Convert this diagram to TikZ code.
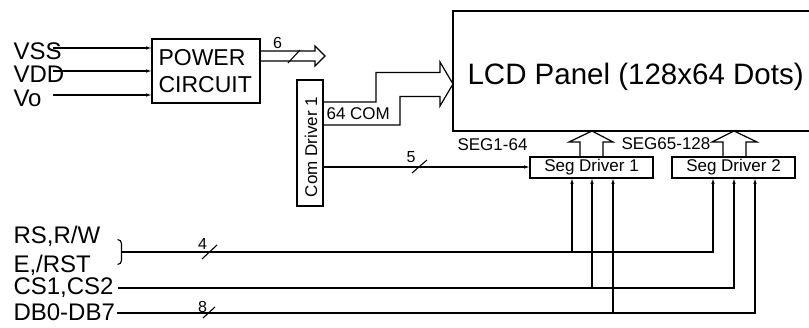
\documentclass[tikz,border=0pt]{standalone}
\usepackage{fontspec}
\setmainfont{Liberation Sans}
\usetikzlibrary{arrows.meta}
\begin{document}
\begin{tikzpicture}[x=1pt,y=-1pt, line width=1.1pt,
  box/.style={draw, line width=1.2pt, inner sep=0pt, outer sep=0pt},
  big/.style={font=\fontsize{24}{24}\selectfont, inner sep=0pt, anchor=base west},
  mid/.style={font=\fontsize{23}{23}\selectfont, inner sep=0pt, anchor=base west},
  small/.style={font=\fontsize{17}{17}\selectfont, inner sep=0pt},
  digit/.style={font=\fontsize{16}{16}\selectfont, inner sep=0pt},
  arr/.style={-{Latex[length=6pt,width=3.5pt]}},
  hollow/.style={line width=1.2pt, line join=miter},
  ]
\useasboundingbox (0,0) rectangle (809,328);
% boxes
\node[box, minimum width=108pt, minimum height=64pt] (pw) at (206,71) {};
\node[mid] (pwt1) at (158,66) {POWER};
\node[mid] (pwt2) at (158,93) {CIRCUIT};
\node[box, minimum width=26pt, minimum height=126pt] (cd) at (310,143) {};
\node[small, rotate=90] (cdt) at (311,147) {Com Driver 1};
\node[box, minimum width=370pt, minimum height=120pt] (lcd) at (638,71) {};
\node[font=\fontsize{29.5}{29.5}\selectfont, inner sep=0pt, anchor=base west] (lcdt) at (467,85) {LCD Panel (128x64 Dots)};
\node[box, minimum width=123pt, minimum height=21pt] (sd1) at (591.5,167.5) {};
\node[small] (sd1t) at (591.5,167.5) {Seg Driver 1};
\node[box, minimum width=123pt, minimum height=21pt] (sd2) at (733.5,167.5) {};
\node[small] (sd2t) at (733.5,167.5) {Seg Driver 2};
% left labels
\node[big] (vss) at (13,59.5) {VSS};
\node[big] (vdd) at (13,83) {VDD};
\node[big] (vo) at (13,106.5) {Vo};
\node[big] (rs) at (13,244) {RS,R/W};
\node[big] (e) at (13,273) {E,/RST};
\node[big] (cs) at (13,295) {CS1,CS2};
\node[big] (db) at (13,321) {DB0-DB7};
% power inputs
\coordinate (vssS) at (53,48);
\coordinate (vddS) at (53,71);
\coordinate (voS) at (53,95);
\draw[arr] (vssS) -- (vssS -| pw.west);
\draw[arr] (vddS) -- (vddS -| pw.west);
\draw[arr] (voS) -- (voS -| pw.west);
% power output hollow arrow
\draw[hollow] (pw.east |- 0,51) -- (315,51) -- (315,46) -- (325,56) -- (315,66) -- (315,61) -- (pw.east |- 0,61);
\draw (288,63) -- (300,50);
\node[digit] (n6) at (277.5,42.5) {6};
% 64 COM hollow arrow
\draw[hollow] (cd.east |- 0,102) -- (376,102) -- (376,72.5) -- (440,72.5) -- (440,62) -- (lcd.west |- 0,84) -- (440,106) -- (440,96.5) -- (400,96.5) -- (400,125) -- (cd.east |- 0,125);
\node[small, anchor=base west] (com) at (326,120) {64 COM};
% 5 line
\coordinate (c5) at (323,167);
\draw[arr] (c5) -- (c5 -| sd1.west);
\draw (412,173) -- (427,160);
\node[digit] (n5) at (411,157.5) {5};
% seg arrows
\draw[hollow] (580,157) -- (580,142) -- (569,142) -- (592,131) -- (613,142) -- (603,142) -- (603,157);
\draw[hollow] (723,157) -- (723,142) -- (712,142) -- (734,131) -- (757,142) -- (746,142) -- (746,157);
\node[small, anchor=base west] (seg1) at (457,151) {SEG1-64};
\node[small, anchor=base west] (seg2) at (621,149.5) {SEG65-128};
% bracket and bus 4
\draw (117.5,239.5) to[out=0,in=90] (121.5,243.5) -- (121.5,260.5) to[out=-90,in=0] (117.5,264.5);
\coordinate (b4) at (122,252);
\coordinate (j1) at (572,252);
\coordinate (j4) at (713,252);
\draw[arr] (b4) -- (j4) -- (j4 |- sd2.south);
\draw[arr] (j1) -- (j1 |- sd1.south);
\draw (202,259) -- (217,245);
\node[digit] (n4) at (202.5,244) {4};
% CS bus
\coordinate (bcs) at (118,288);
\coordinate (j2) at (592,288);
\coordinate (j5) at (734,288);
\draw[arr] (bcs) -- (j5) -- (j5 |- sd2.south);
\draw[arr] (j2) -- (j2 |- sd1.south);
% DB bus
\coordinate (bdb) at (117,313);
\coordinate (j3) at (613,313);
\coordinate (j6) at (755,313);
\draw[arr] (bdb) -- (j6) -- (j6 |- sd2.south);
\draw[arr] (j3) -- (j3 |- sd1.south);
\draw (203,318) -- (215,307);
\node[digit] (n8) at (202.5,307) {8};
\end{tikzpicture}
\end{document}
